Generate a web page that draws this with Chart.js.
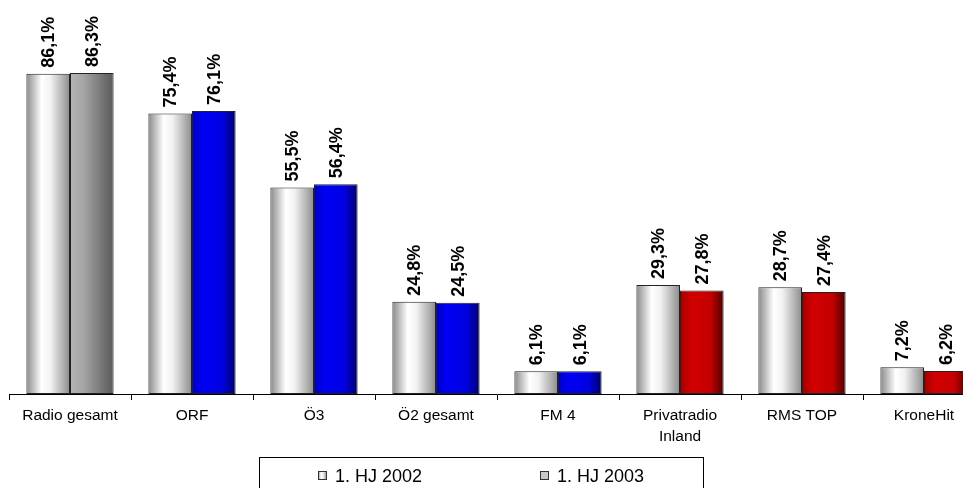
<!DOCTYPE html>
<html>
<head>
<meta charset="utf-8">
<script src="https://cdn.jsdelivr.net/npm/chart.js@4/dist/chart.umd.min.js"></script>
<style>
  html, body { margin: 0; padding: 0; background: #fff; overflow: hidden; }
  #wrap { width: 985px; height: 488px; position: relative; }
</style>
</head>
<body>
<div id="wrap"><canvas id="chart"></canvas></div>
<script>
// Data
const categories = ['Radio gesamt', 'ORF', 'Ö3', 'Ö2 gesamt', 'FM 4', ['Privatradio', 'Inland'], 'RMS TOP', 'KroneHit'];
const series_names = ['1. HJ 2002', '1. HJ 2003'];
const values_2002 = [86.1, 75.4, 55.5, 24.8, 6.1, 29.3, 28.7, 7.2];
const values_2003 = [86.3, 76.1, 56.4, 24.5, 6.1, 27.8, 27.4, 6.2];
const colors_2003 = ['gray', 'blue', 'blue', 'blue', 'blue', 'red', 'red', 'red'];

const CAT_PCT = 0.715;
const FONT = '"Liberation Sans", Arial, sans-serif';

const stops = {
  white: [[0, '#8a8a8a'], [0.35, '#ffffff'], [0.55, '#f2f2f2'], [1, '#8c8c8c']],
  gray:  [[0, '#b4b4b4'], [0.3, '#a6a6a6'], [0.8, '#6e6e6e'], [1, '#5a5a5a']],
  blue:  [[0, '#0000c0'], [0.25, '#0000f4'], [0.7, '#0000e0'], [1, '#000070']],
  red:   [[0, '#a00000'], [0.25, '#d20000'], [0.7, '#c40000'], [1, '#500000']],
  flat:  [[0, '#c8c8c8'], [1, '#c8c8c8']]
};

function makeGradient(ctx, x0, x1, kind) {
  const g = ctx.createLinearGradient(x0, 0, x1, 0);
  stops[kind].forEach(s => g.addColorStop(s[0], s[1]));
  return g;
}

function barFill(dsIndex) {
  return function(context) {
    const chart = context.chart;
    const xs = chart.scales.x;
    if (!xs || !chart.chartArea || context.dataIndex === undefined) {
      return dsIndex === 0 ? '#ddd' : '#888';
    }
    const center = xs.getPixelForValue(context.dataIndex);
    const w = (xs.width / categories.length) * CAT_PCT / 2;
    const x0 = dsIndex === 0 ? center - w : center;
    const kind = dsIndex === 0 ? 'white' : colors_2003[context.dataIndex];
    return makeGradient(chart.ctx, x0, x0 + w, kind);
  };
}

// Rotated value labels above each bar
const valueLabels = {
  id: 'valueLabels',
  afterDatasetsDraw(chart) {
    const ctx = chart.ctx;
    ctx.save();
    ctx.font = 'bold 18px ' + FONT;
    ctx.fillStyle = '#000';
    ctx.textAlign = 'left';
    ctx.textBaseline = 'middle';
    chart.data.datasets.forEach((ds, di) => {
      chart.getDatasetMeta(di).data.forEach((bar, i) => {
        const txt = ds.data[i].toFixed(1).replace('.', ',') + '%';
        ctx.save();
        ctx.translate(bar.x + 1, bar.y - 6);
        ctx.rotate(-Math.PI / 2);
        ctx.fillText(txt, 0, 0);
        ctx.restore();
      });
    });
    ctx.restore();
  }
};

// Boxed legend at the bottom
const boxLegend = {
  id: 'boxLegend',
  afterDraw(chart) {
    const ctx = chart.ctx;
    ctx.save();
    ctx.strokeStyle = '#000';
    ctx.lineWidth = 1;
    ctx.strokeRect(259.5, 457.5, 444, 40);
    const items = [
      { x: 318, kind: 'white', text: series_names[0] },
      { x: 540, kind: 'flat', text: series_names[1] }
    ];
    ctx.font = '18px ' + FONT;
    ctx.textBaseline = 'alphabetic';
    ctx.textAlign = 'left';
    items.forEach(it => {
      ctx.fillStyle = makeGradient(ctx, it.x, it.x + 9, it.kind);
      ctx.fillRect(it.x, 471, 9, 9);
      ctx.strokeStyle = '#333';
      ctx.strokeRect(it.x + 0.5, 471.5, 8, 8);
      ctx.fillStyle = '#000';
      ctx.fillText(it.text, it.x + 17, 482);
    });
    ctx.restore();
  }
};

new Chart(document.getElementById('chart'), {
  type: 'bar',
  data: {
    labels: categories,
    datasets: [
      {
        label: series_names[0],
        data: values_2002,
        backgroundColor: barFill(0),
        borderColor: '#222',
        borderWidth: 1,
        borderSkipped: false
      },
      {
        label: series_names[1],
        data: values_2003,
        backgroundColor: barFill(1),
        borderColor: '#222',
        borderWidth: 1,
        borderSkipped: false
      }
    ]
  },
  options: {
    responsive: true,
    maintainAspectRatio: false,
    animation: false,
    events: [],
    layout: { padding: { left: 9, right: 0, top: 22, bottom: 0 } },
    datasets: { bar: { categoryPercentage: CAT_PCT, barPercentage: 1 } },
    plugins: {
      legend: { display: false },
      tooltip: { enabled: false }
    },
    scales: {
      x: {
        grid: { offset: true, drawOnChartArea: false, tickLength: 6, color: '#000' },
        border: { color: '#000', width: 1 },
        ticks: {
          color: '#000',
          font: { family: FONT, size: 15.5, lineHeight: 1.3 },
          padding: 6,
          maxRotation: 0,
          autoSkip: false
        },
        afterFit(scale) { scale.height = 94; }
      },
      y: {
        display: false,
        min: 0,
        max: 100
      }
    }
  },
  plugins: [valueLabels, boxLegend]
});
</script>
</body>
</html>
